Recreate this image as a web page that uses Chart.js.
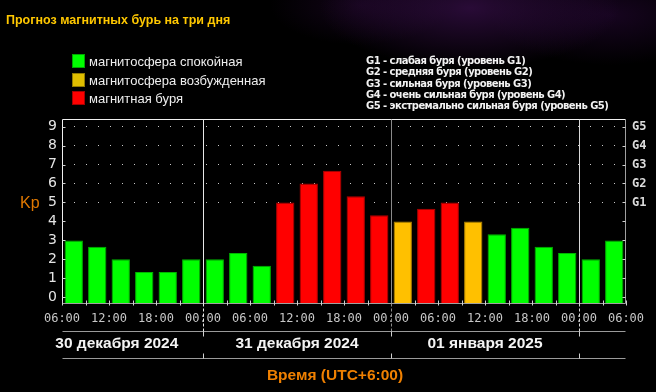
<!DOCTYPE html>
<html>
<head>
<meta charset="utf-8">
<script src="https://cdn.jsdelivr.net/npm/chart.js@4"></script>
<style>
  body { margin: 0; background: #000; }
  #wrap {
    position: relative; width: 656px; height: 392px; overflow: hidden;
    background:
      radial-gradient(ellipse 150px 60px at 470px 8px, rgba(75, 20, 100, 0.55), rgba(0,0,0,0)),
      radial-gradient(ellipse 120px 50px at 610px 15px, rgba(50, 10, 70, 0.45), rgba(0,0,0,0)),
      radial-gradient(ellipse 90px 40px at 360px 5px, rgba(45, 10, 60, 0.4), rgba(0,0,0,0)),
      #000;
    font-family: "Liberation Sans", Arial, sans-serif;
  }
  #chart { position: absolute; left: 0; top: 0; }
  .title { position: absolute; left: 6px; top: 13px; color: #ffc800; font: bold 12.5px "Liberation Sans", Arial, sans-serif; }
  .leg { position: absolute; left: 72px; top: 54px; }
  .leg div { height: 18.5px; line-height: 14px; color: #eee; font-size: 13px; white-space: nowrap; }
  .leg span { display: inline-block; width: 11px; height: 12px; margin-right: 4px; vertical-align: -2px; border: 1px solid rgba(0,0,0,0.35); }
  .gleg { position: absolute; left: 366px; top: 55px; color: #f2f2f2; font: bold 10px "DejaVu Sans", sans-serif; line-height: 11.3px; white-space: nowrap; letter-spacing: -0.55px; }
  .kp { position: absolute; left: 20px; top: 194px; color: #e07800; font-size: 16px; }
  .xtitle { position: absolute; left: 0; width: 670px; text-align: center; top: 366px; color: #f08000; font: bold 15.5px "Liberation Sans", Arial, sans-serif; }
</style>
</head>
<body>
<div id="wrap">
  <canvas id="chart" width="656" height="392"></canvas>
  <div class="title">Прогноз магнитных бурь на три дня</div>
  <div class="leg">
    <div><span style="background:#00ff00"></span>магнитосфера спокойная</div>
    <div><span style="background:#e0be00"></span>магнитосфера возбужденная</div>
    <div><span style="background:#ff0000"></span>магнитная буря</div>
  </div>
  <div class="gleg">
    G1 - слабая буря (уровень G1)<br>
    G2 - средняя буря (уровень G2)<br>
    G3 - сильная буря (уровень G3)<br>
    G4 - очень сильная буря (уровень G4)<br>
    G5 - экстремально сильная буря (уровень G5)
  </div>
  <div class="kp">Kp</div>
  <div class="xtitle">Время (UTC+6:00)</div>
</div>
<script>
// часы от 06:00 30 декабря, по 3 часа на столбик
const hours = [1.5, 4.5, 7.5, 10.5, 13.5, 16.5, 19.5, 22.5, 25.5, 28.5, 31.5, 34.5,
  37.5, 40.5, 43.5, 46.5, 49.5, 52.5, 55.5, 58.5, 61.5, 64.5, 67.5, 70.5];
const kp = [3.0, 2.67, 2.0, 1.33, 1.33, 2.0, 2.0, 2.33, 1.67, 5.0, 6.0, 6.67,
  5.33, 4.33, 4.0, 4.67, 5.0, 4.0, 3.33, 3.67, 2.67, 2.33, 2.0, 3.0];
// q - спокойная, a - возбужденная, s - буря
const status = ['q', 'q', 'q', 'q', 'q', 'q', 'q', 'q', 'q', 's', 's', 's',
  's', 's', 'a', 's', 's', 'a', 'q', 'q', 'q', 'q', 'q', 'q'];
const xTickLabels = ['06:00', '12:00', '18:00', '00:00', '06:00', '12:00', '18:00',
  '00:00', '06:00', '12:00', '18:00', '00:00', '06:00'];
const yTicks = [0, 1, 2, 3, 4, 5, 6, 7, 8, 9];
const gLabels = ['G1', 'G2', 'G3', 'G4', 'G5'];
const dayBreaks = [18, 42, 66];
const dayLabels = ['30 декабря 2024', '31 декабря 2024', '01 января 2025'];
const dayCenters = [7, 30, 54];

const fill = { q: '#00ff00', a: '#ffc000', s: '#ff0000' };
const edge = { q: '#00b400', a: '#b48700', s: '#b40000' };
const yMin = -0.3, yMax = 9.4;

const decor = {
  id: 'decor',
  afterDraw(chart) {
    const { ctx, chartArea: a, scales } = chart;
    const x = scales.x, y = scales.y;
    const L = Math.round(a.left) + 0.5, R = Math.round(a.right) - 0.5;
    const T = Math.round(a.top) + 0.5, B = Math.round(a.bottom) + 0.5;
    ctx.save();
    ctx.lineWidth = 1;
    // рамка
    ctx.strokeStyle = '#f0f0f0';
    ctx.beginPath(); ctx.moveTo(L, B); ctx.lineTo(L, T); ctx.lineTo(R, T); ctx.stroke();
    ctx.strokeStyle = '#a0a0a0';
    ctx.beginPath(); ctx.moveTo(R, T); ctx.lineTo(R, B); ctx.lineTo(L, B); ctx.stroke();
    // засечки внутрь
    ctx.strokeStyle = '#d0d0d0';
    yTicks.forEach(v => {
      const py = Math.round(y.getPixelForValue(v)) + 0.5;
      ctx.beginPath(); ctx.moveTo(L, py); ctx.lineTo(L + 3, py); ctx.stroke();
      ctx.beginPath(); ctx.moveTo(R, py); ctx.lineTo(R - 3, py); ctx.stroke();
    });
    for (let h = 0; h <= 72; h += 3) {
      const px = Math.round(x.getPixelForValue(h)) + 0.5;
      ctx.beginPath(); ctx.moveTo(px, B - 3); ctx.lineTo(px, B + 2); ctx.stroke();
    }
    // ряд дат
    const d1 = B + 28, d2 = B + 55;
    ctx.strokeStyle = '#9a9a9a';
    ctx.beginPath(); ctx.moveTo(L, d1); ctx.lineTo(R, d1); ctx.stroke();
    ctx.beginPath(); ctx.moveTo(L, d2); ctx.lineTo(R, d2); ctx.stroke();
    const divColors = ['#e8e8e8', '#8a8a8a', '#d8d8d8'];
    dayBreaks.forEach((h, i) => {
      const px = Math.round(x.getPixelForValue(h)) + 0.5;
      ctx.strokeStyle = divColors[i];
      ctx.beginPath(); ctx.moveTo(px, T); ctx.lineTo(px, B); ctx.stroke();
      ctx.setLineDash([3, 2]);
      ctx.beginPath(); ctx.moveTo(px, B); ctx.lineTo(px, d1); ctx.stroke();
      ctx.setLineDash([]);
      ctx.strokeStyle = '#d0d0d0';
      ctx.beginPath(); ctx.moveTo(px, d1); ctx.lineTo(px, d1 + 5); ctx.stroke();
      ctx.beginPath(); ctx.moveTo(px, d2 - 5); ctx.lineTo(px, d2); ctx.stroke();
    });
    ctx.fillStyle = '#f4f4f4';
    ctx.font = 'bold 15.5px "Liberation Sans", Arial, sans-serif';
    ctx.textAlign = 'center';
    ctx.textBaseline = 'middle';
    dayLabels.forEach((t, i) => ctx.fillText(t, x.getPixelForValue(dayCenters[i]), (d1 + d2) / 2 - 1));
    ctx.restore();
  }
};

document.addEventListener('DOMContentLoaded', () => {
  new Chart(document.getElementById('chart'), {
    type: 'bar',
    data: {
      datasets: [{
        data: hours.map((h, i) => ({ x: h, y: kp[i] })),
        backgroundColor: status.map(s => fill[s]),
        borderColor: status.map(s => edge[s]),
        borderWidth: 1,
        base: yMin,
        barPercentage: 1,
        categoryPercentage: 0.78
      }]
    },
    options: {
      responsive: false,
      animation: false,
      devicePixelRatio: 1,
      layout: { padding: { top: 119, left: 0, right: 0, bottom: 0 } },
      plugins: { legend: { display: false }, tooltip: { enabled: false } },
      scales: {
        x: {
          type: 'linear', min: 0, max: 72, offset: false,
          afterFit(s) { s.height = 89; },
          grid: { display: false, drawTicks: false, offset: false },
          border: { display: false },
          ticks: {
            stepSize: 6, autoSkip: false, maxRotation: 0, padding: 9,
            color: '#c8c8c8', font: { family: 'DejaVu Sans Mono', size: 12 },
            callback: v => xTickLabels[v / 6]
          }
        },
        y: {
          min: yMin, max: yMax,
          afterFit(s) { s.width = 62; },
          afterBuildTicks(s) { s.ticks = yTicks.map(v => ({ value: v })); },
          grid: {
            drawTicks: false,
            color: c => (c.tick && c.tick.value >= 5 ? '#c8c8c8' : 'rgba(0,0,0,0)')
          },
          border: { display: false, dash: [1, 11] },
          ticks: { padding: 5, color: '#e4e4e4', font: { family: 'DejaVu Sans', size: 14 } }
        },
        y2: {
          position: 'right', min: yMin, max: yMax,
          afterFit(s) { s.width = 30; },
          afterBuildTicks(s) { s.ticks = yTicks.map(v => ({ value: v })); },
          grid: { display: false, drawTicks: false },
          border: { display: false },
          ticks: {
            padding: 6, color: '#dcdcdc', font: { family: 'DejaVu Sans Mono', size: 12, weight: 'bold' },
            callback: v => (v >= 5 ? gLabels[v - 5] : '')
          }
        }
      }
    },
    plugins: [decor]
  });
});
</script>
</body>
</html>
